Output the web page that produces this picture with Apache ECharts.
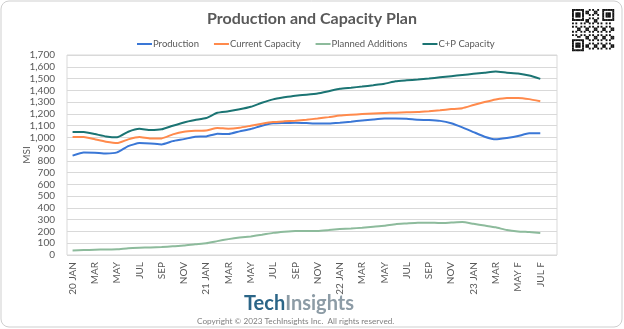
<!DOCTYPE html>
<html>
<head>
<meta charset="utf-8">
<script src="https://cdn.jsdelivr.net/npm/echarts@6/dist/echarts.min.js"></script>
<style>
html,body{margin:0;padding:0;background:#fff;}
#c{width:624px;height:329px;}
</style>
</head>
<body>
<div id="c"></div>
<script>
const categories = ['20 JAN','FEB','MAR','APR','MAY','JUN','JUL','AUG','SEP','OCT','NOV','DEC',
  '21 JAN','FEB','MAR','APR','MAY','JUN','JUL','AUG','SEP','OCT','NOV','DEC',
  '22 JAN','FEB','MAR','APR','MAY','JUN','JUL','AUG','SEP','OCT','NOV','DEC',
  '23 JAN','FEB','MAR','APR F','MAY F','JUN F','JUL F','AUG F'];
const production = [845,872,870,863,872,926,951,948,940,968,985,1005,
  1008,1031,1028,1051,1071,1099,1119,1122,1125,1122,1118,1118,
  1124,1133,1143,1152,1160,1161,1158,1150,1147,1140,1120,1085,
  1045,1005,983,995,1011,1034,1034,null];
const currentCapacity = [1003,1003,983,963,951,983,1003,991,991,1025,1048,1056,
  1059,1079,1074,1082,1099,1116,1130,1136,1141,1150,1160,1172,
  1185,1192,1198,1203,1207,1210,1213,1215,1222,1230,1240,1248,
  1275,1300,1322,1335,1335,1325,1306,null];
const plannedAdditions = [38,42,45,47,49,58,62,64,68,74,80,91,
  100,118,135,148,158,172,188,198,205,205,205,212,
  220,225,232,240,248,262,268,274,275,272,276,280,
  265,250,235,212,200,195,188,null];
const cpCapacity = [1045,1045,1028,1008,1000,1048,1073,1062,1068,1099,1127,1147,
  1164,1209,1221,1238,1260,1294,1323,1340,1354,1362,1372,1392,
  1413,1422,1432,1443,1455,1477,1485,1492,1500,1510,1520,1530,
  1540,1550,1560,1550,1543,1526,1497,null];
const seriesNames = ['Production','Current Capacity','Planned Additions','C+P Capacity'];
const seriesColors = ['#3a77d6','#ff8a4c','#8dbb9c','#1b7473'];

// decorative QR-like mark
function qrGraphic(x0, y0, size, n) {
  const m = size / n, kids = [];
  function finder(r, c) {
    return (r < 7 && c < 7) || (r < 7 && c >= n - 7) || (r >= n - 7 && c < 7);
  }
  for (let r = 0; r < n; r++) for (let c = 0; c < n; c++) {
    let on;
    if (finder(r, c)) {
      const rr = r >= n - 7 ? r - (n - 7) : r, cc = c >= n - 7 ? c - (n - 7) : c;
      on = rr === 0 || rr === 6 || cc === 0 || cc === 6 || (rr >= 2 && rr <= 4 && cc >= 2 && cc <= 4);
    } else if ((r === 7 && (c < 8 || c >= n - 8)) || (c === 7 && (r < 8 || r >= n - 8)) || (r === n - 8 && c < 8) || (c === n - 8 && r < 8)) {
      on = false;
    } else {
      on = ((r * 7 + c * 13 + r * c * 3) % 5) < 2;
    }
    if (on) kids.push({type:'rect', shape:{x:x0 + c * m, y:y0 + r * m, width:m + 0.2, height:m + 0.2}, style:{fill:'#111'}});
  }
  return {type:'group', children:kids, silent:true};
}

const chart = echarts.init(document.getElementById('c'), null, {renderer:'canvas'});
const FONT = 'Lato';
chart.setOption({
  animation:false,
  backgroundColor:'#fff',
  textStyle:{fontFamily:FONT},
  title:{
    text:'Production and Capacity Plan',
    left:'center', top:6,
    textStyle:{fontFamily:FONT, fontSize:16, fontWeight:'bold', color:'#595959'}
  },
  legend:{
    data:seriesNames,
    left:132, top:34,
    icon:'rect', itemWidth:15, itemHeight:2, itemGap:15,
    textStyle:{fontFamily:FONT, fontSize:9.5, color:'#595959', padding:[0,0,0,-4]}
  },
  grid:{left:67, right:67, top:55, bottom:74, show:true, borderColor:'#d9d9d9', borderWidth:1},
  xAxis:{
    type:'category', data:categories, boundaryGap:true,
    axisLine:{show:false}, axisTick:{show:false}, splitLine:{show:false},
    axisLabel:{interval:1, rotate:90, margin:7, fontSize:10, color:'#595959', fontFamily:FONT}
  },
  yAxis:{
    type:'value', min:0, max:1700, interval:100,
    name:'MSI', nameLocation:'middle', nameGap:40, nameRotate:90, nameMoveOverlap:false,
    nameTextStyle:{fontFamily:FONT, fontSize:10, color:'#595959', align:'center', verticalAlign:'middle'},
    axisLine:{show:false}, axisTick:{show:false},
    splitLine:{lineStyle:{color:'#d9d9d9', width:1}},
    axisLabel:{margin:12, fontSize:10, color:'#595959', fontFamily:FONT,
      formatter:v => v.toLocaleString('en-US')}
  },
  series:[production,currentCapacity,plannedAdditions,cpCapacity].map((d,i)=>({
    name:seriesNames[i], type:'line', data:d, showSymbol:false, smooth:0.15,
    lineStyle:{width:2, color:seriesColors[i]}, itemStyle:{color:seriesColors[i]}
  })),
  graphic:[
    {type:'rect', shape:{x:1, y:1, width:621, height:326, r:8}, style:{fill:'none', stroke:'#cfcfcf', lineWidth:1}, silent:true},
    qrGraphic(572, 9, 42, 25),
    {type:'text', left:244, top:294, style:{
      text:'{a|Tech}{b|Insights}',
      rich:{a:{fontFamily:FONT, fontSize:20, fontWeight:'bold', fill:'#2b6587'},
            b:{fontFamily:FONT, fontSize:20, fontWeight:'bold', fill:'#8d9ca6'}}
    }},
    {type:'text', left:197, top:317, style:{
      text:'Copyright © 2023 TechInsights Inc.  All rights reserved.',
      fontFamily:FONT, fontSize:8.2, fill:'#7f7f7f'}}
  ]
});
</script>
</body>
</html>
